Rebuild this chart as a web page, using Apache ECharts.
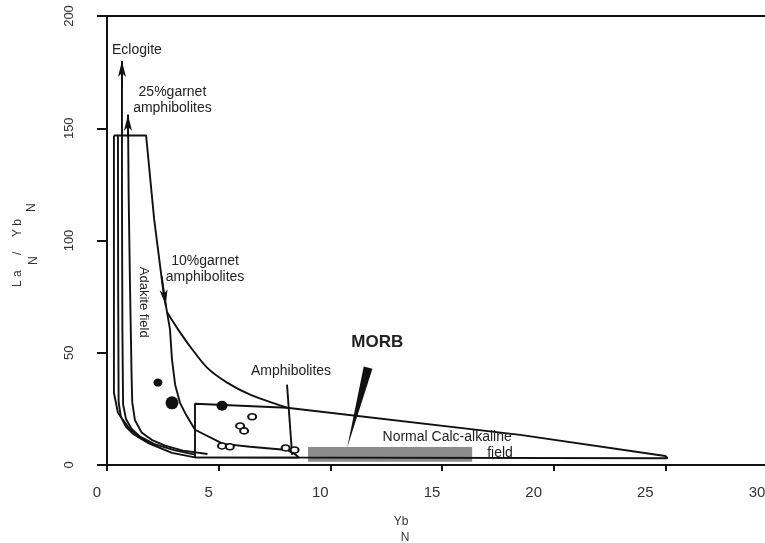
<!DOCTYPE html>
<html>
<head>
<meta charset="utf-8">
<script src="https://cdn.jsdelivr.net/npm/echarts@6/dist/echarts.min.js"></script>
<style>
  html, body { margin: 0; padding: 0; background: #fff; }
  #chart { width: 765px; height: 543px; }
</style>
</head>
<body>
<div id="chart"></div>
<script>
// Axis ticks
const xTicks = [0, 5, 10, 15, 20, 25, 30];
const yTicks = [0, 50, 100, 150, 200];

// Field outlines, [Yb_N, (La/Yb)_N]
const adakiteField = [
  [0.31, 146.8], [1.75, 146.8], [2.11, 109.6], [2.51, 78.3], [2.69, 68.0],
  [2.82, 60.4], [2.91, 47.0], [3.05, 35.8], [3.27, 27.7], [3.49, 23.3],
  [3.94, 15.7], [5.20, 9.4], [6.41, 8.1], [8.06, 6.7], [8.45, 4.6],
  [8.6, 3.3], [3.94, 3.4], [2.91, 5.4], [1.84, 9.8], [1.39, 12.5],
  [0.94, 17.0], [0.49, 23.3], [0.31, 32.2], [0.31, 146.8]
];
const calcAlkalineField = [
  [3.94, 3.4], [3.94, 27.3], [8.06, 25.5], [18.5, 13.4], [25.0, 4.0],
  [25.1, 3.0], [3.94, 3.4]
];
const garnet10Curve = [
  [2.69, 68.0], [3.18, 60.4], [3.72, 52.8], [4.48, 43.4], [5.38, 36.7],
  [6.41, 31.3], [8.06, 25.5]
];
const innerCurve = [
  [0.49, 146.8], [0.5, 80], [0.52, 28], [0.62, 21.5], [0.85, 17.0],
  [1.2, 13.6], [1.84, 10.2]
];
const eclogiteCurve = [
  [0.67, 180], [0.67, 120], [0.69, 60], [0.72, 27], [0.85, 20.5],
  [1.1, 16], [1.5, 12.5], [2.1, 9.4], [3.0, 6.6], [3.94, 4.6]
];
const garnet25Curve = [
  [0.94, 156], [0.97, 120], [1.03, 80], [1.1, 40], [1.13, 28],
  [1.25, 20], [1.55, 14.5], [2.0, 11.2], [2.6, 8.6], [3.4, 6.4], [4.5, 4.9]
];
const amphiboliteCurve = [[8.06, 35.8], [8.29, 4.5]];
const morbArrow = [[11.69, 43.4], [10.75, 7.6]];
const morbBox = [[9.0, 1.5], [16.35, 8.0]];

// Samples
const filledSamples = [[2.28, 36.7], [2.91, 27.7], [5.15, 26.4]];
const openSamples = [
  [6.5, 21.5], [5.96, 17.4], [6.14, 15.2], [5.15, 8.5],
  [5.5, 8.1], [8.0, 7.6], [8.4, 6.7]
];

// Marker sizes for the filled samples
const filledSizes = [[9, 8], [13, 13], [11, 10]];

const INK = '#111';
const FONT = '"Liberation Sans", Arial, sans-serif';

function outline(name, data, smooth) {
  return {
    name, type: 'line', data, showSymbol: false, smooth: smooth || false,
    lineStyle: { color: INK, width: 1.9 }, z: 3, silent: true
  };
}

function arrowHead(from, to) {
  return {
    silent: true, symbol: ['none', 'arrow'], symbolSize: [6, 16],
    lineStyle: { color: INK, width: 1.8, type: 'solid' },
    itemStyle: { color: INK },
    label: { show: false },
    data: [[{ coord: from }, { coord: to }]]
  };
}

// Annotation text anchored in data space
const notes = [
  { text: 'Eclogite', at: [1.34, 184.8] },
  { text: '25%garnet\namphibolites', at: [2.93, 162.4] },
  { text: '10%garnet\namphibolites', at: [4.39, 87.2] },
  { text: 'Adakite field', at: [1.66, 72.5], rotate: -90, size: 13 },
  { text: 'Amphibolites', at: [8.24, 41.6] },
  { text: 'MORB', at: [12.1, 54.6], size: 17, bold: true },
  { text: 'Normal Calc-alkaline', at: [15.23, 12.5] },
  { text: 'field', at: [17.6, 5.4] }
];

const chart = echarts.init(document.getElementById('chart'), null, { renderer: 'canvas' });

chart.setOption({
  animation: false,
  backgroundColor: '#fff',
  grid: {
    left: 107, right: -12, top: 16, bottom: 78,
    show: true, borderColor: INK, borderWidth: 2, backgroundColor: 'transparent',
    containLabel: false, outerBoundsMode: 'none'
  },
  xAxis: {
    type: 'value', min: xTicks[0], max: xTicks[xTicks.length - 1], interval: 5,
    axisLine: { lineStyle: { color: INK, width: 2 } },
    axisTick: { show: true, length: 6, lineStyle: { color: INK, width: 2 } },
    splitLine: { show: false },
    axisLabel: {
      margin: 20, fontFamily: FONT, fontSize: 15, color: '#333',
      formatter: v => (v >= 20 ? '{b|' + v + '}' : '{a|' + v + '}'),
      rich: {
        a: { fontFamily: FONT, fontSize: 15, color: '#333', padding: [0, 20, 0, 0] },
        b: { fontFamily: FONT, fontSize: 15, color: '#333', padding: [0, 40, 0, 0] }
      }
    }
  },
  yAxis: {
    type: 'value', min: yTicks[0], max: yTicks[yTicks.length - 1], interval: 50,
    axisLine: { lineStyle: { color: INK, width: 2 } },
    axisTick: { show: true, length: 10, lineStyle: { color: INK, width: 2 } },
    splitLine: { show: false },
    axisLabel: { rotate: 90, margin: 31, fontFamily: FONT, fontSize: 13, color: '#333' }
  },
  graphic: [
    {
      type: 'group', x: 18, y: 245, rotation: Math.PI / 2,
      children: [
        { type: 'text', x: -42, y: 0, style: { text: 'L a', font: '12px ' + FONT, fill: '#333', textVerticalAlign: 'middle' } },
        { type: 'text', x: -20, y: 16, style: { text: 'N', font: '12px ' + FONT, fill: '#333', textVerticalAlign: 'middle' } },
        { type: 'text', x: -10, y: 0, style: { text: '/', font: '12px ' + FONT, fill: '#333', textVerticalAlign: 'middle' } },
        { type: 'text', x: 8, y: 0, style: { text: 'Y b', font: '12px ' + FONT, fill: '#333', textVerticalAlign: 'middle' } },
        { type: 'text', x: 33, y: 14, style: { text: 'N', font: '12px ' + FONT, fill: '#333', textVerticalAlign: 'middle' } }
      ]
    },
    { type: 'text', x: 401, y: 522, style: { text: 'Yb', font: '12px ' + FONT, fill: '#333', textAlign: 'center', textVerticalAlign: 'middle' } },
    { type: 'text', x: 405, y: 538, style: { text: 'N', font: '12px ' + FONT, fill: '#333', textAlign: 'center', textVerticalAlign: 'middle' } }
  ],
  series: [
    Object.assign(outline('Adakite field', adakiteField), {
      markLine: arrowHead([2.45, 84], [2.63, 71])
    }),
    outline('Normal Calc-alkaline field', calcAlkalineField),
    outline('10% garnet amphibolite', garnet10Curve, 0.3),
    outline('inner', innerCurve),
    Object.assign(outline('Eclogite', eclogiteCurve), {
      markLine: arrowHead([0.67, 168], [0.67, 180])
    }),
    Object.assign(outline('25% garnet amphibolite', garnet25Curve), {
      markLine: arrowHead([0.94, 146], [0.94, 156])
    }),
    outline('Amphibolite', amphiboliteCurve),
    {
      name: 'MORB', type: 'line', data: [], z: 5, silent: true,
      markArea: {
        silent: true,
        itemStyle: { color: '#8c8c8c', opacity: 1 },
        data: [[{ coord: morbBox[0] }, { coord: morbBox[1] }]]
      }
    },
    {
      name: 'MORB arrow', type: 'custom', coordinateSystem: 'cartesian2d', z: 6, silent: true,
      data: [morbArrow[0]],
      renderItem: (params, api) => {
        const a = api.coord(morbArrow[0]);
        const b = api.coord(morbArrow[1]);
        const dx = b[0] - a[0], dy = b[1] - a[1];
        const len = Math.hypot(dx, dy);
        const nx = -dy / len, ny = dx / len;
        const w = 4.5;
        return {
          type: 'polygon',
          shape: { points: [[a[0] + nx * w, a[1] + ny * w], [a[0] - nx * w, a[1] - ny * w], b] },
          style: { fill: INK }
        };
      }
    },
    {
      name: 'Open samples', type: 'scatter', data: openSamples, symbol: 'circle',
      symbolSize: [8, 6], z: 7, silent: true,
      itemStyle: { color: '#fff', borderColor: INK, borderWidth: 1.8, opacity: 1 }
    },
    {
      name: 'Filled samples', type: 'scatter', data: filledSamples, symbol: 'circle',
      symbolSize: (v, p) => filledSizes[p.dataIndex], z: 7, silent: true,
      itemStyle: { color: INK, opacity: 1 }
    },
    {
      name: 'notes', type: 'scatter', symbolSize: 1, z: 8, silent: true,
      itemStyle: { color: 'transparent', opacity: 1 },
      data: notes.map(n => ({
        value: n.at,
        label: {
          show: true, position: 'inside', formatter: n.text, rotate: n.rotate || 0,
          fontFamily: FONT, fontSize: n.size || 14, fontWeight: n.bold ? 'bold' : 'normal',
          color: '#222', align: 'center', verticalAlign: 'middle', lineHeight: 16
        }
      }))
    }
  ]
});
</script>
</body>
</html>
